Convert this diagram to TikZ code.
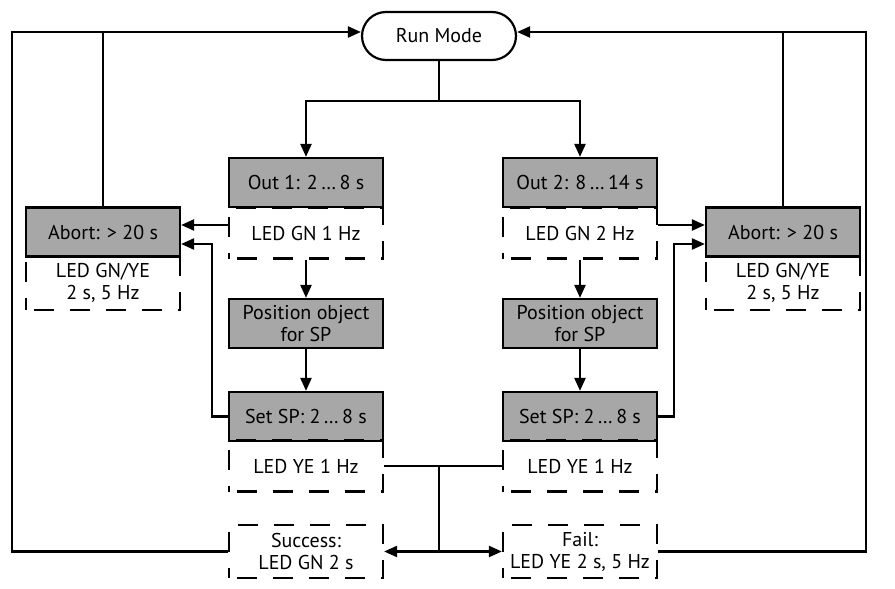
\documentclass[tikz,border=0pt]{standalone}
\usepackage{fontspec}
\setmainfont{PT Sans}
\usetikzlibrary{arrows.meta}
\begin{document}
\begin{tikzpicture}[x=0.5pt,y=-0.5pt,line width=1.1pt,
    font=\fontsize{10}{11}\selectfont,
    >={Triangle[length=6.5pt,width=5.5pt]},
    state/.style={draw,fill=gray!85!black!60,minimum width=77pt,minimum height=24.5pt,inner sep=1pt,align=center},
    led/.style={draw,dash pattern=on 10pt off 8pt,dash phase=-4pt,minimum width=77pt,minimum height=25.5pt,inner sep=1pt,align=center}]
    \useasboundingbox (0,0) rectangle (895,589);
    % Run mode
    \node[draw,rounded corners=12pt,minimum width=77pt,minimum height=24pt] (run) at (439,36) {Run Mode};
    % left branch
    \node[state] (out1) at (306,182.5) {Out 1: 2\,…\,8 s};
    \node[led] (ledA) at (306,233) {LED GN 1 Hz};
    \node[state] (posA) at (306,323.5) {Position object\\for SP};
    \node[state] (setA) at (306,416.5) {Set SP: 2\,…\,8 s};
    \node[led] (ledC) at (306,466) {LED YE 1 Hz};
    \node[led,minimum height=26.5pt] (succ) at (306,551.5) {Success:\\LED GN 2 s};
    \node[state] (abortA) at (103,232) {Abort: > 20 s};
    \node[led,minimum height=27pt] (ledAbA) at (103,283) {LED GN/YE\\2 s, 5 Hz};
    % right branch
    \node[state] (out2) at (580,182.5) {Out 2: 8\,…\,14 s};
    \node[led] (ledB) at (580,233) {LED GN 2 Hz};
    \node[state] (posB) at (580,323.5) {Position object\\for SP};
    \node[state] (setB) at (580,416.5) {Set SP: 2\,…\,8 s};
    \node[led] (ledD) at (580,466) {LED YE 1 Hz};
    \node[led,minimum height=26.5pt] (fail) at (580,551.5) {Fail:\\LED YE 2 s, 5 Hz};
    \node[state] (abortB) at (783,232) {Abort: > 20 s};
    \node[led,minimum height=27pt] (ledAbB) at (783,283) {LED GN/YE\\2 s, 5 Hz};
    % connectors
    \coordinate (split) at (439,101);
    \coordinate (join) at (439,466);
    \coordinate (inA) at (run.west |- 0,32);
    \coordinate (inB) at (run.east |- 0,32);
    \draw[->] (run) -- (split) -| (out1);
    \draw[->] (split) -| (out2);
    \draw[->] (ledA) -- (posA);
    \draw[->] (posA) -- (setA);
    \draw[->] (ledB) -- (posB);
    \draw[->] (posB) -- (setB);
    \draw[->] (ledA.west |- 0,225) -- (abortA.east |- 0,225);
    \draw[->] (setA.west) -| (212,244) -- (abortA.east |- 0,244);
    \draw[->] (ledB.east |- 0,225) -- (abortB.west |- 0,225);
    \draw[->] (setB.east) -| (674,244) -- (abortB.west |- 0,244);
    \draw (ledC.east) -- (ledD.west);
    \draw[->] (join) |- (succ.east);
    \draw[->] (join |- succ.east) -- (fail.west);
    \draw (abortA.north) -- (abortA.north |- inA);
    \draw (abortB.north) -- (abortB.north |- inB);
    \draw[->] (succ.west) -| (12,32) -- (inA);
    \draw[->] (fail.east) -| (866,32) -- (inB);
\end{tikzpicture}
\end{document}
